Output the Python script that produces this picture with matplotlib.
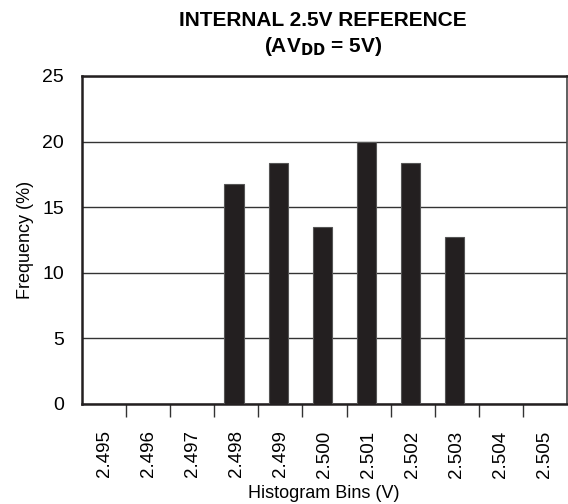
import matplotlib.pyplot as plt
import numpy as np

plt.rcParams['font.family'] = ['Liberation Sans', 'DejaVu Sans']

# Histogram bins and frequencies
bins = ['2.495', '2.496', '2.497', '2.498', '2.499', '2.500',
        '2.501', '2.502', '2.503', '2.504', '2.505']
freq = [0, 0, 0, 16.8, 18.35, 13.5, 20.0, 18.35, 12.75, 0, 0]

fig = plt.figure(figsize=(5.68, 5.04), dpi=100)
ax = fig.add_axes([82 / 568, 1 - 404 / 504, 485 / 568, 328 / 504])

x = np.arange(len(bins))
ax.bar(x - 0.05, freq, width=0.44, color='#231f20', edgecolor='#555555',
       linewidth=0.8, zorder=3)

ax.set_xlim(-0.5, len(bins) - 0.5)
ax.set_ylim(0, 25)
ax.set_yticks([0, 5, 10, 15, 20, 25])
ax.yaxis.grid(True, color='#333333', linewidth=1.0, zorder=1)
ax.tick_params(axis='y', length=0, labelsize=14, pad=13)

ax.set_xticks(x)
ax.set_xticklabels(bins, rotation=90, fontsize=13.5)
ax.tick_params(axis='x', which='major', length=0, pad=19)
ax.set_xticks(x[1:] - 0.5, minor=True)
ax.tick_params(axis='x', which='minor', direction='out', length=9,
               width=1.0, color='#333333')

for s in ['left', 'bottom', 'top']:
    ax.spines[s].set_linewidth(1.8)
    ax.spines[s].set_color('#231f20')
ax.spines['right'].set_linewidth(1.2)
ax.spines['right'].set_color('#444444')

ax.set_ylabel('Frequency (%)', fontsize=13, labelpad=6)
fig.text(324 / 568, 1 - 493 / 504, 'Histogram Bins (V)', ha='center',
         va='center', fontsize=13)

fig.text(0.569, 1 - 20 / 504, 'INTERNAL 2.5V REFERENCE', ha='center',
         va='center', fontsize=15, fontweight='bold')
fig.text(0.569, 1 - 46 / 504, r'(AV$_{\mathbf{DD}}$ = 5V)', ha='center',
         va='center', fontsize=15, fontweight='bold')

fig.savefig('out.png', dpi=100)
